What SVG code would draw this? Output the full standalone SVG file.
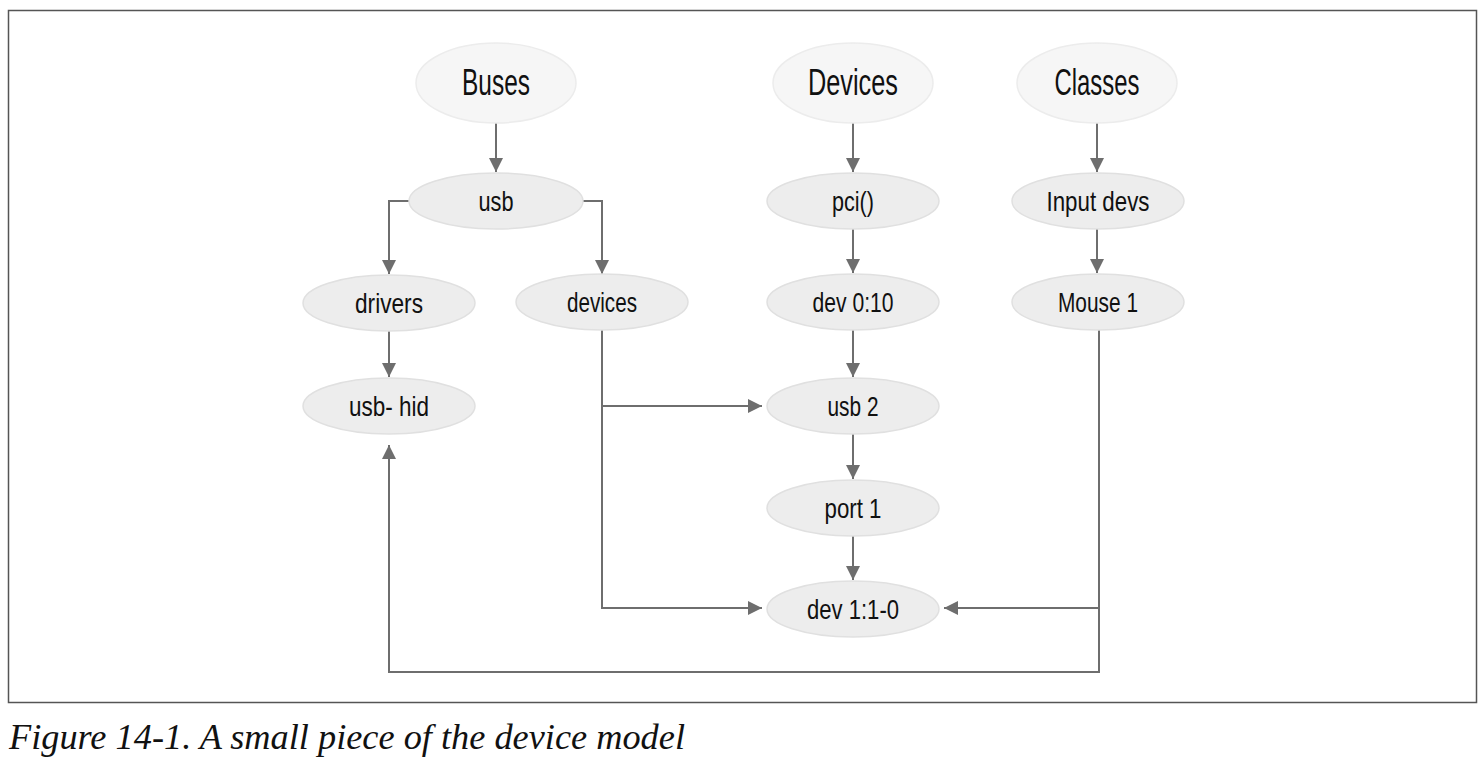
<svg xmlns="http://www.w3.org/2000/svg" width="1483" height="766" viewBox="0 0 1483 766">
<style>
.top{fill:#f6f6f6;stroke:#ececec;stroke-width:1.5}
.nd{fill:#ededed;stroke:#e0e0e0;stroke-width:1.5}
.t{font-family:"Liberation Sans","Arial",sans-serif;fill:#111;text-anchor:middle}
.tt{font-size:37px}
.tn{font-size:28px}
.cap{font-family:"Liberation Serif","Times New Roman",serif;font-style:italic;font-size:35px;fill:#111}
.c{fill:none;stroke:#6e6e6e;stroke-width:2}
</style>
<defs>
<marker id="ah" viewBox="0 0 10 10" refX="10" refY="5" markerWidth="14" markerHeight="14" markerUnits="userSpaceOnUse" orient="auto">
<path d="M0,0 L10,5 L0,10 z" fill="#6e6e6e"/>
</marker>
</defs>
<rect x="0" y="0" width="1483" height="766" fill="#fff"/>
<rect x="8.5" y="10.5" width="1468" height="692" fill="#fff" stroke="#555" stroke-width="1.5"/>
<g id="connectors">
<path class="c" d="M496,123 V172" marker-end="url(#ah)"/>
<path class="c" d="M853,123 V172" marker-end="url(#ah)"/>
<path class="c" d="M1097,123 V172" marker-end="url(#ah)"/>
<path class="c" d="M409,201 H389 V274" marker-end="url(#ah)"/>
<path class="c" d="M583,201 H602 V274" marker-end="url(#ah)"/>
<path class="c" d="M389,331 V377" marker-end="url(#ah)"/>
<path class="c" d="M853,229 V273" marker-end="url(#ah)"/>
<path class="c" d="M1097,229 V273" marker-end="url(#ah)"/>
<path class="c" d="M853,330 V377" marker-end="url(#ah)"/>
<path class="c" d="M853,434 V479" marker-end="url(#ah)"/>
<path class="c" d="M853,536 V580" marker-end="url(#ah)"/>
<path class="c" d="M602,330 V608 H762" marker-end="url(#ah)"/>
<path class="c" d="M602,406 H762" marker-end="url(#ah)"/>
<path class="c" d="M1099,330 V672 H389 V445" marker-end="url(#ah)"/>
<path class="c" d="M1099,608 H944" marker-end="url(#ah)"/>
</g>
<g id="n-buses"><ellipse class="top" cx="496" cy="83" rx="80" ry="40"/><text class="t tt" x="496" y="95" textLength="68" lengthAdjust="spacingAndGlyphs">Buses</text></g>
<g id="n-devices-top"><ellipse class="top" cx="853" cy="83" rx="80" ry="40"/><text class="t tt" x="853" y="95" textLength="90" lengthAdjust="spacingAndGlyphs">Devices</text></g>
<g id="n-classes"><ellipse class="top" cx="1097" cy="83" rx="80" ry="40"/><text class="t tt" x="1097" y="95" textLength="85" lengthAdjust="spacingAndGlyphs">Classes</text></g>
<g id="n-usb"><ellipse class="nd" cx="496" cy="201" rx="87" ry="28"/><text class="t tn" x="496" y="211" textLength="35" lengthAdjust="spacingAndGlyphs">usb</text></g>
<g id="n-drivers"><ellipse class="nd" cx="389" cy="303" rx="86" ry="28"/><text class="t tn" x="389" y="313" textLength="68" lengthAdjust="spacingAndGlyphs">drivers</text></g>
<g id="n-devices"><ellipse class="nd" cx="602" cy="302" rx="86" ry="28"/><text class="t tn" x="602" y="312" textLength="70" lengthAdjust="spacingAndGlyphs">devices</text></g>
<g id="n-usbhid"><ellipse class="nd" cx="389" cy="406" rx="86" ry="28"/><text class="t tn" x="389" y="416" textLength="80" lengthAdjust="spacingAndGlyphs">usb- hid</text></g>
<g id="n-pci"><ellipse class="nd" cx="853" cy="201" rx="86" ry="28"/><text class="t tn" x="853" y="211" textLength="42" lengthAdjust="spacingAndGlyphs">pci()</text></g>
<g id="n-dev010"><ellipse class="nd" cx="853" cy="302" rx="86" ry="28"/><text class="t tn" x="853" y="312" textLength="81" lengthAdjust="spacingAndGlyphs">dev 0:10</text></g>
<g id="n-usb2"><ellipse class="nd" cx="853" cy="406" rx="86" ry="28"/><text class="t tn" x="853" y="416" textLength="51" lengthAdjust="spacingAndGlyphs">usb 2</text></g>
<g id="n-port1"><ellipse class="nd" cx="853" cy="508" rx="86" ry="28"/><text class="t tn" x="853" y="518" textLength="57" lengthAdjust="spacingAndGlyphs">port 1</text></g>
<g id="n-dev110"><ellipse class="nd" cx="853" cy="609" rx="86" ry="28"/><text class="t tn" x="853" y="619" textLength="92" lengthAdjust="spacingAndGlyphs">dev 1:1-0</text></g>
<g id="n-input"><ellipse class="nd" cx="1098" cy="201" rx="86" ry="28"/><text class="t tn" x="1098" y="211" textLength="103" lengthAdjust="spacingAndGlyphs">Input devs</text></g>
<g id="n-mouse"><ellipse class="nd" cx="1098" cy="302" rx="86" ry="28"/><text class="t tn" x="1098" y="312" textLength="80" lengthAdjust="spacingAndGlyphs">Mouse 1</text></g>
<text class="cap" x="9" y="749" textLength="676" lengthAdjust="spacingAndGlyphs">Figure 14-1. A small piece of the device model</text>
</svg>
